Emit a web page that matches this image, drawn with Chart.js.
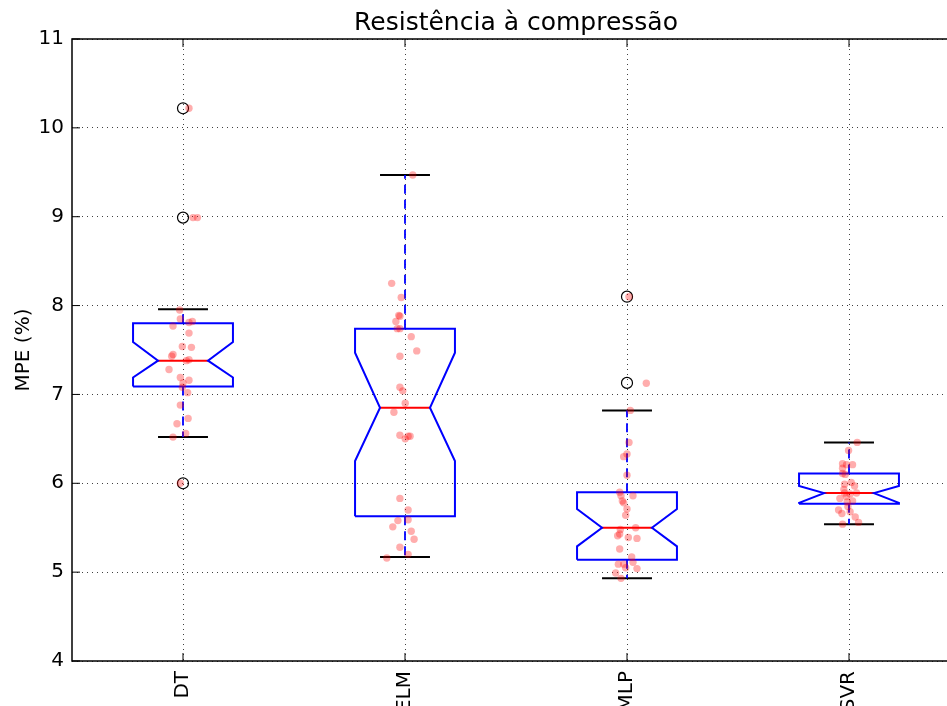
<!DOCTYPE html>
<html>
<head>
<meta charset="utf-8">
<script src="https://cdn.jsdelivr.net/npm/chart.js@4"></script>
<style>
html, body { margin: 0; padding: 0; overflow: hidden; background: #fff; }
#wrap { width: 990px; height: 706px; }
</style>
</head>
<body>
<div id="wrap"><canvas id="boxChart"></canvas></div>
<script>
// Box plot summary
const categories = ['DT', 'ELM', 'MLP', 'SVR'];
const whiskerLow  = [6.52, 5.17, 4.93, 5.54];
const q1          = [7.09, 5.63, 5.14, 5.77];
const notchLow    = [7.19, 6.25, 5.29, 5.78];
const median      = [7.38, 6.85, 5.50, 5.89];
const notchHigh   = [7.59, 7.47, 5.71, 5.97];
const q3          = [7.80, 7.74, 5.90, 6.11];
const whiskerHigh = [7.96, 9.47, 6.82, 6.46];
const outliers    = [[10.22, 8.99, 6.00], [], [8.10, 7.13], []];

// jittered raw values: [horizontal offset, MPE]
const dtPoints = [
    [0.027, 10.22], [0.045, 8.99], [0.065, 8.99], [-0.015, 7.95], [-0.012, 7.85],
    [0.042, 7.82], [0.027, 7.81], [-0.045, 7.77], [0.027, 7.69], [-0.003, 7.54],
    [0.038, 7.53], [-0.045, 7.45], [-0.051, 7.43], [0.027, 7.39], [0.015, 7.38],
    [-0.063, 7.28], [-0.012, 7.19], [0.027, 7.16], [0.0, 7.13], [-0.003, 7.08],
    [0.021, 7.02], [-0.012, 6.88], [0.023, 6.73], [-0.027, 6.67], [0.012, 6.56],
    [-0.045, 6.52], [-0.012, 6.00]
];
const elmPoints = [
    [0.035, 9.47], [-0.060, 8.25], [-0.017, 8.09], [-0.028, 7.89], [-0.023, 7.88],
    [-0.041, 7.82], [-0.035, 7.74], [-0.023, 7.74], [0.028, 7.65], [0.053, 7.49],
    [-0.023, 7.43], [-0.023, 7.08], [-0.010, 7.04], [0.001, 6.90], [-0.050, 6.80],
    [-0.023, 6.54], [0.023, 6.53], [0.014, 6.53], [0.001, 6.50], [-0.023, 5.83],
    [0.014, 5.70], [0.014, 5.59], [-0.032, 5.58], [-0.055, 5.51], [0.028, 5.46],
    [0.041, 5.37], [-0.023, 5.28], [0.014, 5.20], [-0.082, 5.16]
];
const mlpPoints = [
    [0.009, 8.10], [0.087, 7.125], [0.015, 6.82], [0.009, 6.46], [0.0, 6.33],
    [-0.015, 6.30], [0.0, 6.09], [-0.033, 5.90], [-0.027, 5.86], [0.027, 5.86],
    [-0.021, 5.80], [-0.015, 5.78], [0.0, 5.71], [-0.006, 5.64], [0.039, 5.50],
    [-0.030, 5.48], [-0.033, 5.43], [-0.042, 5.41], [0.006, 5.39], [0.045, 5.38],
    [-0.033, 5.26], [0.021, 5.17], [0.027, 5.11], [-0.039, 5.09], [-0.015, 5.09],
    [-0.006, 5.05], [0.045, 5.04], [-0.051, 4.99], [-0.027, 4.93]
];
const svrPoints = [
    [0.037, 6.46], [-0.002, 6.37], [-0.029, 6.22], [0.016, 6.21], [-0.011, 6.21],
    [-0.029, 6.17], [-0.029, 6.11], [-0.017, 6.10], [0.010, 6.01], [-0.020, 5.99],
    [0.025, 5.97], [-0.023, 5.93], [-0.020, 5.89], [0.005, 5.88], [0.034, 5.89],
    [-0.011, 5.85], [-0.041, 5.83], [0.016, 5.80], [-0.008, 5.79], [-0.005, 5.74],
    [0.005, 5.68], [-0.047, 5.70], [-0.032, 5.66], [0.028, 5.62], [0.043, 5.56],
    [-0.029, 5.54]
];
const rawPoints = [dtPoints, elmPoints, mlpPoints, svrPoints];

const yTicks = [4, 5, 6, 7, 8, 9, 10, 11];

const BOX_W = 0.45;
const FONT = 'DejaVu Sans';

Chart.defaults.font.family = FONT;
Chart.defaults.color = '#000';

function segment(points, color, width, dash, order) {
    return {
        data: points,
        showLine: true,
        borderColor: color,
        borderWidth: width,
        borderDash: dash || [],
        pointRadius: 0,
        pointHoverRadius: 0,
        fill: false,
        order: order
    };
}

const datasets = [];
categories.forEach((name, i) => {
    const c = i + 1;
    const h = BOX_W / 2, n = BOX_W / 4;
    datasets.push(segment([
        {x: c - h, y: q1[i]}, {x: c - h, y: notchLow[i]}, {x: c - n, y: median[i]},
        {x: c - h, y: notchHigh[i]}, {x: c - h, y: q3[i]}, {x: c + h, y: q3[i]},
        {x: c + h, y: notchHigh[i]}, {x: c + n, y: median[i]}, {x: c + h, y: notchLow[i]},
        {x: c + h, y: q1[i]}, {x: c - h, y: q1[i]}
    ], '#0000ff', 2, null, 2));
    datasets.push(segment([{x: c, y: q3[i]}, {x: c, y: whiskerHigh[i]}], '#0000ff', 1.8, [9, 6], 2));
    datasets.push(segment([{x: c, y: q1[i]}, {x: c, y: whiskerLow[i]}], '#0000ff', 1.8, [9, 6], 2));
    datasets.push(segment([{x: c - n, y: whiskerHigh[i]}, {x: c + n, y: whiskerHigh[i]}], '#000', 2, null, 2));
    datasets.push(segment([{x: c - n, y: whiskerLow[i]}, {x: c + n, y: whiskerLow[i]}], '#000', 2, null, 2));
    datasets.push(segment([{x: c - n, y: median[i]}, {x: c + n, y: median[i]}], '#ff0000', 2, null, 2));
    datasets.push({
        data: outliers[i].map(v => ({x: c, y: v})),
        pointRadius: 5.5,
        pointHoverRadius: 5.5,
        pointBackgroundColor: 'rgba(0,0,0,0)',
        pointBorderColor: '#000',
        pointBorderWidth: 1.2,
        order: 1
    });
    datasets.push({
        data: rawPoints[i].map(p => ({x: c + p[0], y: p[1]})),
        pointRadius: 3.7,
        pointHoverRadius: 3.7,
        pointBackgroundColor: 'rgba(255,0,0,0.32)',
        pointBorderWidth: 0,
        order: 0
    });
});

// axes frame with inward ticks like the original figure
const framePlugin = {
    id: 'frame',
    afterDraw(chart) {
        const {ctx, chartArea: a, scales} = chart;
        ctx.save();
        ctx.strokeStyle = '#000';
        ctx.lineWidth = 1;
        ctx.beginPath();
        scales.y.ticks.forEach(t => {
            const py = scales.y.getPixelForValue(t.value);
            ctx.moveTo(a.left, py); ctx.lineTo(a.left + 8, py);
        });
        scales.x.ticks.forEach(t => {
            const px = scales.x.getPixelForValue(t.value);
            ctx.moveTo(px, a.bottom); ctx.lineTo(px, a.bottom - 8);
            ctx.moveTo(px, a.top); ctx.lineTo(px, a.top + 8);
        });
        ctx.stroke();
        ctx.lineWidth = 1.5;
        ctx.strokeRect(a.left, a.top, a.right - a.left, a.bottom - a.top);
        ctx.restore();
    }
};

new Chart(document.getElementById('boxChart'), {
    type: 'scatter',
    data: { datasets: datasets },
    options: {
        responsive: true,
        maintainAspectRatio: false,
        animation: false,
        events: [],
        layout: { padding: { left: 0, right: 30, top: 0, bottom: 0 } },
        plugins: {
            legend: { display: false },
            tooltip: { enabled: false },
            title: {
                display: true,
                text: 'Resistência à compressão',
                fullSize: false,
                color: '#000',
                font: { family: FONT, size: 25, weight: 'normal' },
                padding: { top: 8, bottom: 1 }
            }
        },
        scales: {
            x: {
                type: 'linear',
                min: 0.5,
                max: 4.5,
                afterBuildTicks: s => { s.ticks = categories.map((_, i) => ({ value: i + 1 })); },
                afterFit: s => { s.height = 45; },
                ticks: {
                    autoSkip: false,
                    minRotation: 90,
                    maxRotation: 90,
                    padding: 10,
                    font: { size: 20 },
                    callback: v => categories[v - 1]
                },
                grid: { color: 'rgba(0,0,0,0.75)', lineWidth: 1, drawTicks: false },
                border: { display: false, dash: [1, 4] }
            },
            y: {
                min: 4,
                max: 11,
                afterBuildTicks: s => { s.ticks = yTicks.map(v => ({ value: v })); },
                afterFit: s => { s.width = 72; },
                ticks: { padding: 8, font: { size: 20 } },
                grid: { color: 'rgba(0,0,0,0.75)', lineWidth: 1, drawTicks: false },
                border: { display: false, dash: [1, 4] },
                title: {
                    display: true,
                    text: 'MPE (%)',
                    color: '#000',
                    font: { size: 20 },
                    padding: { top: 12, bottom: 0 }
                }
            }
        }
    },
    plugins: [framePlugin]
});
</script>
</body>
</html>
